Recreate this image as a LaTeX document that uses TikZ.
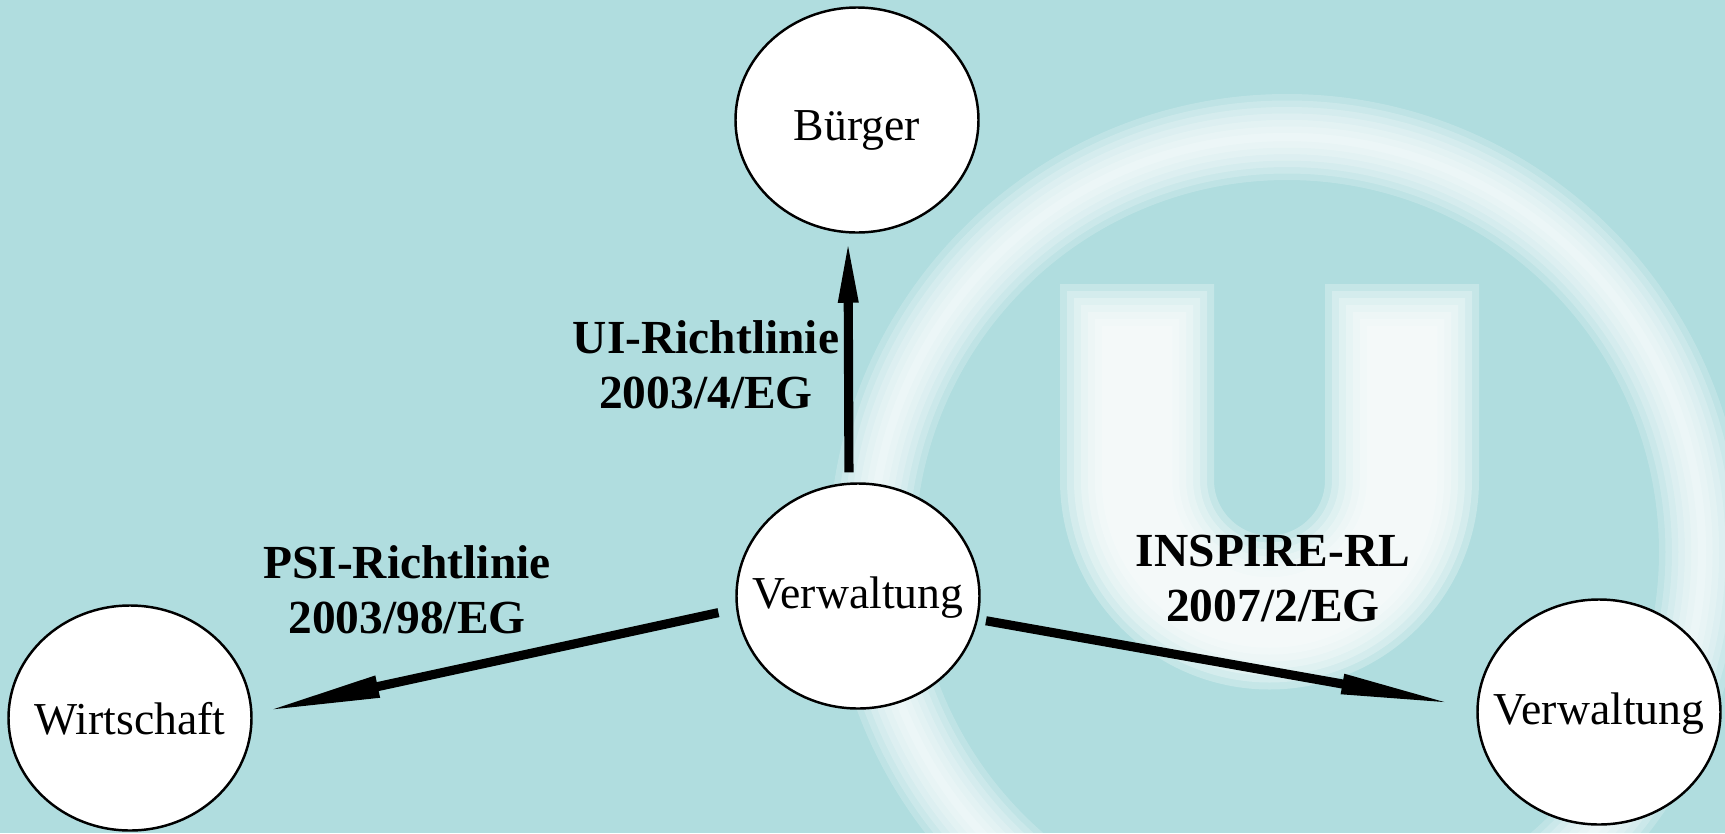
\documentclass[tikz,border=0pt]{standalone}
\usepackage{fontspec}
\setmainfont{Liberation Serif}
\usetikzlibrary{shapes.geometric, arrows.meta}
\definecolor{bgteal}{RGB}{176,221,223}
\newcommand{\actortext}[1]{\makebox[0pt]{#1}}

\begin{document}
\begin{tikzpicture}[
    actor/.style={ellipse, draw=black, line width=0.7pt, fill=white,
        minimum width=2.43cm, minimum height=2.25cm, inner sep=0pt,
        text height=0.7em, text depth=0pt, font=\fontsize{13pt}{15pt}\selectfont},
    law/.style={align=center, font=\bfseries\fontsize{13.5pt}{15.6pt}\selectfont},
    flow/.style={line width=2.6pt, black},
    glow/.style={white, opacity=0.27}
]
    \useasboundingbox (0,0) rectangle (17.25,8.33);
    \begin{scope}
        \clip (0,0) rectangle (17.25,8.33);
        \fill[bgteal] (0,0) rectangle (17.25,8.33);
        % Logo im Hintergrund
        \foreach \s in {0,...,6}{
            \draw[glow, opacity=0.2, line width=0.08cm+\s*0.13cm] (12.87,2.81) circle (4.15);
            \draw[glow, line width=0.7cm+\s*0.14cm, line cap=rect, line join=round]
                (11.37,4.72) -- (11.37,3.53) arc (180:360:1.325) -- (14.02,4.72);
        }
    \end{scope}

    \node[actor, text height=1.15em] (buerger) at (8.57,7.13) {\actortext{Bürger}};
    \node[actor] (verw) at (8.58,2.37) {\actortext{Verwaltung}};
    \node[actor, text height=0.94em] (wirt) at (1.30,1.15) {\actortext{Wirtschaft}};
    \node[actor] (verw2) at (15.99,1.21) {\actortext{Verwaltung}};

    \draw[flow, -{Triangle[length=0.65cm, width=0.18cm]}, shorten <=1mm, shorten >=0.4mm]
        ([xshift=-0.9mm]verw.north) -- ([xshift=-0.9mm]buerger.south);
    \draw[flow, -{Triangle[length=1.18cm, width=0.2cm]}, shorten <=1.8mm, shorten >=1mm]
        (verw.186) -- (wirt.2);
    \draw[flow, -{Triangle[length=1.18cm, width=0.18cm]}, shorten <=0.8mm, shorten >=1.8mm]
        (verw.-11) -- (verw2.178);

    \node[law] (ui) at (7.06,4.685) {UI-Richtlinie\\2003/4/EG};
    \node[law] (psi) at (4.07,2.435) {PSI-Richtlinie\\2003/98/EG};
    \node[law] (inspire) at (12.73,2.545) {INSPIRE-RL\\2007/2/EG};
\end{tikzpicture}
\end{document}
